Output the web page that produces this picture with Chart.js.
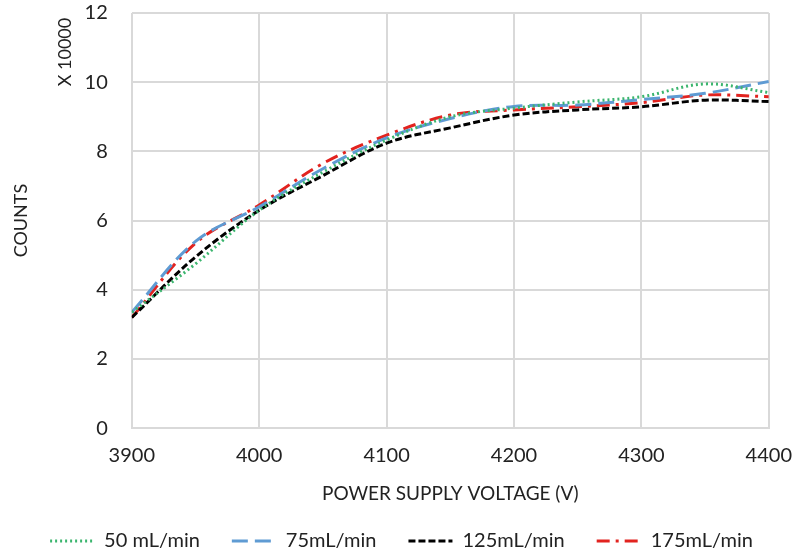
<!DOCTYPE html>
<html>
<head>
<meta charset="utf-8">
<script src="https://cdn.jsdelivr.net/npm/chart.js@4.4.1/dist/chart.umd.min.js"></script>
<style>
  html, body { margin: 0; padding: 0; background: #fff; }
  #wrap { width: 795px; height: 554px; }
</style>
</head>
<body>
<div id="wrap"><canvas id="chart"></canvas></div>
<script>
const voltages = [3900, 3950, 4000, 4050, 4100, 4150, 4200, 4250, 4300, 4350, 4400];
const flow50  = [3.35, 4.75, 6.3, 7.4, 8.33, 9.0, 9.25, 9.43, 9.58, 9.95, 9.7];
const flow75  = [3.35, 5.4, 6.4, 7.5, 8.39, 8.95, 9.3, 9.34, 9.5, 9.68, 10.02];
const flow125 = [3.2, 4.95, 6.3, 7.3, 8.24, 8.68, 9.05, 9.2, 9.29, 9.48, 9.44];
const flow175 = [3.2, 5.35, 6.45, 7.65, 8.47, 9.05, 9.2, 9.29, 9.41, 9.63, 9.58];

const toPoints = ys => ys.map((y, i) => ({ x: voltages[i], y: y }));

const FONT = 'Lato, "Open Sans", sans-serif';

// "X 10000" multiplier note beside the top of the y axis
const scaleNote = {
    id: 'scaleNote',
    afterDraw(chart) {
        const ctx = chart.ctx;
        ctx.save();
        ctx.translate(65, 52);
        ctx.rotate(-Math.PI / 2);
        ctx.font = '18px ' + FONT;
        ctx.fillStyle = '#222';
        ctx.textAlign = 'center';
        ctx.textBaseline = 'middle';
        ctx.fillText('X 10000', 0, 0);
        ctx.restore();
    }
};

const lineSet = (label, values, color, dash) => ({
    label: label,
    data: toPoints(values),
    borderColor: color,
    backgroundColor: color,
    borderWidth: 3,
    borderDash: dash,
    pointRadius: 0,
    tension: 0.35,
    fill: false
});

const chart = new Chart(document.getElementById('chart').getContext('2d'), {
    type: 'line',
    data: {
        datasets: [
            lineSet('50 mL/min', flow50, '#3bb56e', [2, 3]),
            lineSet('75mL/min', flow75, '#5f9bd3', [16, 7]),
            lineSet('125mL/min', flow125, '#000000', [7, 3]),
            lineSet('175mL/min', flow175, '#e2231f', [13, 6, 3, 6])
        ]
    },
    options: {
        responsive: true,
        maintainAspectRatio: false,
        animation: false,
        layout: { padding: { left: 8, right: 0, top: 0, bottom: -7 } },
        plugins: {
            legend: {
                position: 'bottom',
                labels: {
                    usePointStyle: true,
                    pointStyle: 'line',
                    pointStyleWidth: 44,
                    boxHeight: 3,
                    padding: 32,
                    color: '#222',
                    font: { family: FONT, size: 20 },
                    // legend samples should keep each dataset's dash pattern
                    generateLabels(c) {
                        const items = Chart.defaults.plugins.legend.labels.generateLabels(c);
                        items.forEach(it => {
                            const ds = c.data.datasets[it.datasetIndex];
                            it.lineDash = ds.borderDash;
                            it.lineWidth = 3;
                            it.strokeStyle = ds.borderColor;
                        });
                        return items;
                    }
                }
            },
            tooltip: { enabled: false }
        },
        scales: {
            x: {
                type: 'linear',
                min: 3900,
                max: 4400,
                ticks: { stepSize: 100, padding: 3, color: '#222', font: { family: FONT, size: 20 }, callback: v => String(v) },
                grid: { color: '#d9d9d9', lineWidth: 2, drawTicks: true, tickLength: 12, tickColor: 'rgba(0,0,0,0)' },
                border: { color: '#d9d9d9', width: 2 },
                title: { display: true, text: 'POWER SUPPLY VOLTAGE (V)', color: '#222', font: { family: FONT, size: 19 }, padding: { top: 12, bottom: -6 } }
            },
            y: {
                min: 0,
                max: 12,
                ticks: { stepSize: 2, padding: 1, color: '#222', font: { family: FONT, size: 20 } },
                grid: { color: '#d9d9d9', lineWidth: 2, drawTicks: true, tickLength: 23, tickColor: 'rgba(0,0,0,0)' },
                border: { display: false },
                title: { display: true, text: 'COUNTS', color: '#222', font: { family: FONT, size: 18 }, padding: { top: 2, bottom: 52 } }
            }
        }
    },
    plugins: [scaleNote]
});
</script>
</body>
</html>
